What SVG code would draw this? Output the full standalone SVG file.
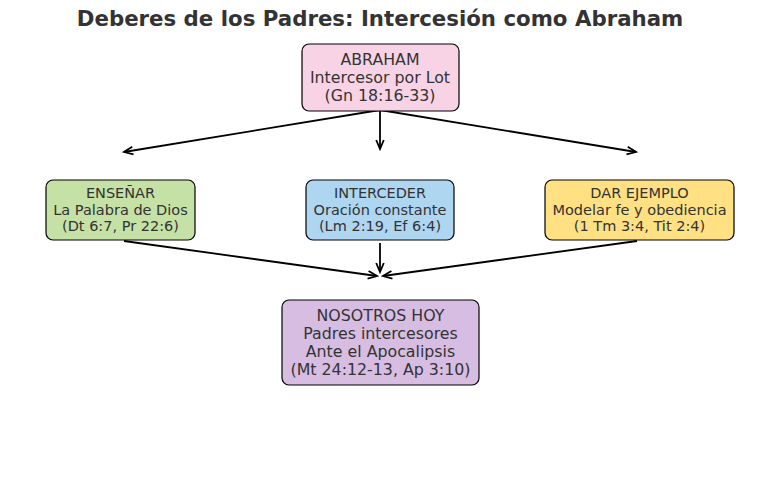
<svg xmlns="http://www.w3.org/2000/svg" width="760" height="485" viewBox="0 0 760 485">
<defs>
<marker id="ah" markerWidth="12" markerHeight="10" refX="10" refY="5" orient="auto" markerUnits="userSpaceOnUse">
<path d="M1,1.2 L10,5 L1,8.8" fill="none" stroke="#000" stroke-width="1.8"/>
</marker>
<style>
text{font-family:"DejaVu Sans","Noto Sans",sans-serif;fill:#333;text-anchor:middle}
.t{font-size:21.3px;font-weight:bold}
.big{font-size:15.8px}
.sm{font-size:14.5px}
.box{stroke:#000;stroke-width:1.2}
.c{stroke:#000;stroke-width:1.8;fill:none;marker-end:url(#ah)}
</style>
</defs>
<rect width="760" height="485" fill="#fff"/>
<text class="t" x="380" y="26">Deberes de los Padres: Intercesión como Abraham</text>
<g id="connectors">
<line class="c" x1="380" y1="110" x2="124" y2="152"/>
<line class="c" x1="380" y1="110" x2="380" y2="149"/>
<line class="c" x1="380" y1="110" x2="636" y2="152"/>
<line class="c" x1="124" y1="241" x2="377" y2="276"/>
<line class="c" x1="380" y1="243" x2="380" y2="272"/>
<line class="c" x1="637" y1="241" x2="383" y2="276"/>
</g>
<g id="abraham">
<rect class="box" x="302" y="44" width="157" height="67" rx="7" fill="#f8d3e6"/>
<text class="big" x="380" y="65">ABRAHAM</text>
<text class="big" x="380" y="83">Intercesor por Lot</text>
<text class="big" x="380" y="101">(Gn 18:16-33)</text>
</g>
<g id="ensenar">
<rect class="box" x="46" y="180" width="149" height="60" rx="7" fill="#c5e1a5"/>
<text class="sm" x="120.5" y="198">ENSEÑAR</text>
<text class="sm" x="120.5" y="215">La Palabra de Dios</text>
<text class="sm" x="120.5" y="231">(Dt 6:7, Pr 22:6)</text>
</g>
<g id="interceder">
<rect class="box" x="306" y="180" width="148" height="60" rx="7" fill="#aed6f1"/>
<text class="sm" x="380" y="198">INTERCEDER</text>
<text class="sm" x="380" y="215">Oración constante</text>
<text class="sm" x="380" y="231">(Lm 2:19, Ef 6:4)</text>
</g>
<g id="ejemplo">
<rect class="box" x="545" y="180" width="189" height="60" rx="7" fill="#ffe082"/>
<text class="sm" x="639.5" y="198">DAR EJEMPLO</text>
<text class="sm" x="639.5" y="215">Modelar fe y obediencia</text>
<text class="sm" x="639.5" y="231">(1 Tm 3:4, Tit 2:4)</text>
</g>
<g id="nosotros">
<rect class="box" x="282" y="300" width="197" height="85" rx="7" fill="#d7bde2"/>
<text class="big" x="380.5" y="321">NOSOTROS HOY</text>
<text class="big" x="380.5" y="339">Padres intercesores</text>
<text class="big" x="380.5" y="357">Ante el Apocalipsis</text>
<text class="big" x="380.5" y="375">(Mt 24:12-13, Ap 3:10)</text>
</g>
</svg>
